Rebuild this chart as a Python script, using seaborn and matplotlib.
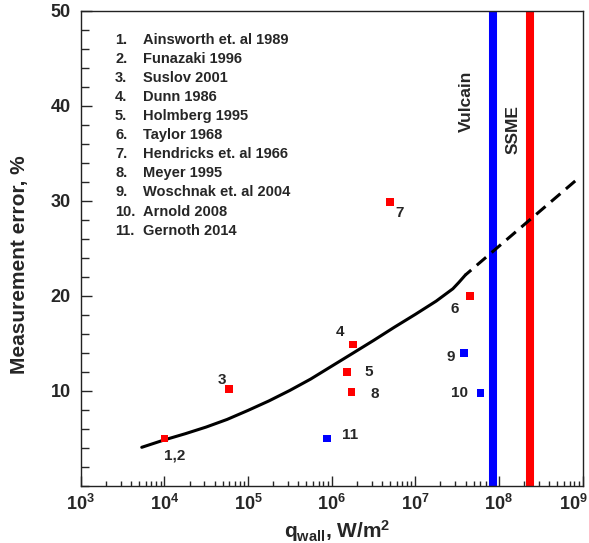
import numpy as np
import pandas as pd
import matplotlib
matplotlib.use("Agg")
import matplotlib.pyplot as plt
import matplotlib.transforms as mtransforms
import seaborn as sns
from matplotlib.ticker import LogLocator, MultipleLocator, FixedLocator, LogFormatterSciNotation, NullFormatter

# ---------------- data ----------------
legend_numbers = ["1.", "2.", "3.", "4.", "5.", "6.", "7.", "8.", "9.", "10.", "11."]
legend_names = ["Ainsworth et. al 1989", "Funazaki 1996", "Suslov 2001", "Dunn 1986",
                "Holmberg 1995", "Taylor 1968", "Hendricks et. al 1966", "Meyer 1995",
                "Woschnak et. al 2004", "Arnold 2008", "Gernoth 2014"]

point_labels = ["1,2", "3", "4", "5", "6", "7", "8", "9", "10", "11"]
point_q = [1.0e4, 5.9e4, 1.8e6, 1.52e6, 4.5e7, 5.0e6, 1.73e6, 3.85e7, 6.0e7, 8.8e5]
point_err = [5.0, 10.2, 14.9, 12.0, 20.0, 29.9, 9.9, 14.0, 9.8, 5.0]
point_group = ["red", "red", "red", "red", "red", "red", "red", "blue", "blue", "blue"]

curve_q = [5.37e3, 1.0e4, 1.78e4, 3.16e4, 5.62e4, 1.0e5, 1.78e5, 3.16e5, 5.62e5,
           1.0e6, 1.78e6, 3.16e6, 5.62e6, 1.0e7, 1.78e7, 2.82e7, 3.31e7, 3.98e7]
curve_err = [4.07, 4.85, 5.5, 6.2, 7.0, 7.95, 8.95, 10.05, 11.25,
             12.6, 13.95, 15.3, 16.7, 18.05, 19.45, 20.75, 21.4, 22.2]

extrap_q = [3.98e7, 9.0e8]
extrap_err = [22.2, 32.4]

engine_names = ["Vulcain", "SSME"]
engine_q = [8.6e7, 2.37e8]

x_ticks = [1e3, 1e4, 1e5, 1e6, 1e7, 1e8, 1e9]
y_ticks = [10, 20, 30, 40, 50]

# ---------------- style ----------------
sns.set_theme(style="ticks")
plt.rcParams["font.family"] = ["Liberation Sans", "DejaVu Sans"]
plt.rcParams["font.weight"] = "bold"
plt.rcParams["mathtext.fontset"] = "custom"
plt.rcParams["mathtext.rm"] = "Liberation Sans:bold"
plt.rcParams["mathtext.bf"] = "Liberation Sans:bold"
plt.rcParams["mathtext.it"] = "Liberation Sans:bold"

colors = {"red": "#ff0000", "blue": "#0000ff"}
engine_colors = ["#0000ff", "#ff0000"]
label_offsets = {"1,2": (10, -17), "3": (-7, 9), "4": (-13, 12), "5": (22, 0),
                 "6": (-15, -13), "7": (10, -11), "8": (23, -2), "9": (-13, -4),
                 "10": (-21, 0), "11": (23, 3)}

fig = plt.figure(figsize=(5.89, 5.43), dpi=100)
ax = fig.add_axes([80.7 / 589, (543 - 486) / 543, (582.5 - 80.7) / 589, (486 - 10.7) / 543])
ax.set_xscale("log")

# vertical engine lines
for name, q, c in zip(engine_names, engine_q, engine_colors):
    ax.axvline(q, color=c, lw=5.8, zorder=2, solid_capstyle="butt")

# correlation curve
sns.lineplot(x=curve_q, y=curve_err, color="black", lw=2.2, estimator=None,
             sort=False, ax=ax, zorder=3)
sns.lineplot(x=extrap_q, y=extrap_err, color="black", lw=2.2, estimator=None,
             sort=False, ax=ax, zorder=3, linestyle=(1.5, (4.0, 2.4)))

# data points
df = pd.DataFrame({"q": point_q, "err": point_err, "group": point_group, "label": point_labels})
sns.scatterplot(data=df, x="q", y="err", hue="group", palette=colors, marker="s",
                s=30, linewidth=0, legend=False, ax=ax, zorder=5)
for _, r in df.iterrows():
    ax.annotate(r["label"], (r["q"], r["err"]), xytext=label_offsets[r["label"]],
                textcoords="offset pixels", ha="center", va="center",
                fontsize=11, fontweight="bold", zorder=6)

# legend-like numbered list
for i, (num, name) in enumerate(zip(legend_numbers, legend_names)):
    y = 0.9384 - i * 0.0401
    ax.text(0.0684, y, num, transform=ax.transAxes, ha="left", va="center",
            fontsize=10.5, fontweight="bold")
    ax.text(0.1248, y, name, transform=ax.transAxes, ha="left", va="center",
            fontsize=10.5, fontweight="bold")

# engine labels
ax.text(0.769, 0.810, engine_names[0], transform=ax.transAxes, rotation=90,
        ha="center", va="center", fontsize=12.5, fontweight="bold")
ax.text(0.8615, 0.749, engine_names[1], transform=ax.transAxes, rotation=90,
        ha="center", va="center", fontsize=12.5, fontweight="bold")

# axes
ax.set_xlim(1e3, 1e9)
ax.set_ylim(0, 50)
ax.xaxis.set_major_locator(FixedLocator(x_ticks))
ax.xaxis.set_minor_locator(LogLocator(base=10, subs=np.arange(2, 10), numticks=20))
ax.xaxis.set_major_formatter(LogFormatterSciNotation())
ax.xaxis.set_minor_formatter(NullFormatter())
ax.yaxis.set_major_locator(FixedLocator(y_ticks))
ax.yaxis.set_minor_locator(MultipleLocator(2))

ax.tick_params(axis="x", which="major", direction="in", length=7.5, width=1, pad=6,
               labelsize=13, top=False)
ax.tick_params(axis="x", which="minor", direction="in", length=3.6, width=1, top=False)
ax.tick_params(axis="y", which="major", direction="in", length=8, width=1, pad=7,
               labelsize=13, right=False)
ax.tick_params(axis="y", which="minor", direction="in", length=5.5, width=1, right=False)
for lab in ax.get_xticklabels() + ax.get_yticklabels():
    lab.set_fontweight("bold")

# nudge the last x tick label so it stays inside the figure
last_tick = ax.xaxis.get_major_ticks()[-1]
last_tick.label1.set_transform(last_tick.label1.get_transform() +
                               mtransforms.ScaledTranslation(-9 / 100, 0, fig.dpi_scale_trans))

for sp in ax.spines.values():
    sp.set_visible(True)
    sp.set_linewidth(1.0)
    sp.set_color("#222222")

ax.set_xlabel(r"$\mathdefault{q}_{\mathdefault{wall}}$, W/m$^{\mathdefault{2}}$",
              fontsize=15, fontweight="bold")
ax.set_ylabel("Measurement error, %", fontsize=15, fontweight="bold")
ax.xaxis.label.set_va("center")
ax.yaxis.label.set_va("center")
ax.xaxis.set_label_coords(0.511, -0.095)
ax.yaxis.set_label_coords(-0.121, 0.465)

fig.savefig("out.png", dpi=100)
